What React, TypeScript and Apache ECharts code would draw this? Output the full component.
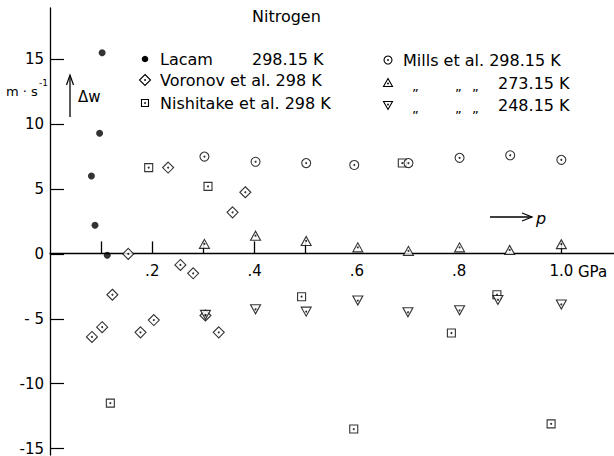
import React, { useEffect, useRef } from "react";
import * as echarts from "echarts";

// ---- data (pressure in GPa, Δw in m·s⁻¹) ----
const lacamP = [0.081, 0.088, 0.097, 0.102, 0.112];
const lacamW = [6.0, 2.2, 9.3, 15.5, -0.1];

const voronovP = [0.082, 0.102, 0.122, 0.153, 0.177, 0.203, 0.231, 0.255, 0.28, 0.304, 0.33, 0.357, 0.382];
const voronovW = [-6.4, -5.65, -3.15, 0.0, -6.05, -5.1, 6.65, -0.85, -1.5, -4.75, -6.05, 3.2, 4.75];

const nishitakeP = [0.118, 0.193, 0.309, 0.492, 0.594, 0.689, 0.785, 0.874, 0.98];
const nishitakeW = [-11.5, 6.65, 5.2, -3.3, -13.5, 7.0, -6.1, -3.15, -13.1];

const mills298P = [0.302, 0.402, 0.501, 0.595, 0.701, 0.801, 0.9, 1.0];
const mills298W = [7.5, 7.1, 7.0, 6.85, 7.0, 7.4, 7.6, 7.25];

const mills273P = [0.302, 0.402, 0.501, 0.602, 0.701, 0.801, 0.899, 1.0];
const mills273W = [0.77, 1.4, 1.0, 0.5, 0.23, 0.5, 0.3, 0.75];

const mills248P = [0.304, 0.402, 0.501, 0.602, 0.7, 0.801, 0.876, 1.0];
const mills248W = [-4.7, -4.27, -4.45, -3.6, -4.5, -4.35, -3.55, -3.9];

const xTickValues = [0.1, 0.2, 0.3, 0.4, 0.5, 1.0];
const xLabelValues = [0.2, 0.4, 0.6, 0.8, 1.0];
const xLabelTexts = [".2", ".4", ".6", ".8", "1.0"];
const yTickValues = [15, 10, 5, 0, -5, -10, -15];
const yLabelTexts = ["15", "10", "5", "0", "- 5", "-10", "-15"];

const Y_MIN = -15.5;
const Y_MAX = 18.95;
const FONT = "DejaVu Sans";
const zip = (a: number[], b: number[]) => a.map((v, i) => [v, b[i]]);

export default function App() {
  const ref = useRef<HTMLDivElement>(null);
  useEffect(() => {
    if (!ref.current) return;
    const chart = echarts.init(ref.current, null, { renderer: "svg" });

    const gridTop = 8;
    const gridBottom = 0;
    const gridH = 456 - gridTop - gridBottom;
    // distance from the grid's bottom edge up to the value 0
    const zeroOffset = (gridH * (0 - Y_MIN)) / (Y_MAX - Y_MIN);

    const hollow = { color: "#fff", borderColor: "#000", borderWidth: 1.1 };
    const txt = (x: number, y: number, text: string, size = 16, extra: any = {}) => ({
      type: "text",
      x,
      y,
      silent: true,
      style: { text, fontSize: size, fontFamily: FONT, fill: "#000", align: "left", verticalAlign: "middle", ...extra },
    });
    const strokeStyle = { stroke: "#000", lineWidth: 1.1, fill: "none" };
    const dot = (cx: number, cy: number) => ({ type: "circle", shape: { cx, cy, r: 0.9 }, style: { fill: "#000" } });

    const allHollowCentres = [
      ...zip(voronovP, voronovW),
      ...zip(nishitakeP, nishitakeW),
      ...zip(mills298P, mills298W),
      ...zip(mills273P, mills273W),
      ...zip(mills248P, mills248W),
    ];

    chart.setOption({
      animation: false,
      backgroundColor: "#fff",
      grid: { left: 50, right: 0, top: gridTop, bottom: gridBottom },
      xAxis: {
        type: "value",
        position: "bottom",
        offset: -zeroOffset,
        min: 0,
        max: 1.103,
        axisLine: { show: true, onZero: false, lineStyle: { color: "#000", width: 1.3 } },
        axisTick: { show: true, inside: true, length: 12, customValues: xTickValues, lineStyle: { color: "#000", width: 1.3 } },
        axisLabel: {
          show: true,
          margin: 10,
          customValues: xLabelValues,
          fontSize: 15,
          fontFamily: FONT,
          color: "#000",
          formatter: (v: number) => {
            const i = xLabelValues.findIndex((x) => Math.abs(x - v) < 1e-6);
            return i >= 0 ? xLabelTexts[i] : "";
          },
        },
        splitLine: { show: false },
      },
      yAxis: {
        type: "value",
        min: Y_MIN,
        max: Y_MAX,
        axisLine: { show: true, onZero: false, lineStyle: { color: "#000", width: 1.3 } },
        axisTick: { show: true, inside: true, length: 14, customValues: yTickValues, lineStyle: { color: "#000", width: 1.2 } },
        axisLabel: {
          show: true,
          margin: 6,
          customValues: yTickValues,
          fontSize: 15,
          fontFamily: FONT,
          color: "#000",
          formatter: (v: number) => {
            const i = yTickValues.findIndex((x) => Math.abs(x - v) < 1e-6);
            return i >= 0 ? yLabelTexts[i] : "";
          },
        },
        splitLine: { show: false },
      },
      series: [
        { name: "Lacam", type: "scatter", symbol: "circle", symbolSize: 7, itemStyle: { color: "#000" }, data: zip(lacamP, lacamW) },
        { name: "Voronov et al.", type: "scatter", symbol: "path://M0,-1L1,0L0,1L-1,0Z", symbolSize: 11, itemStyle: hollow, data: zip(voronovP, voronovW) },
        { name: "Nishitake et al.", type: "scatter", symbol: "rect", symbolSize: 8, itemStyle: hollow, data: zip(nishitakeP, nishitakeW) },
        { name: "Mills 298.15 K", type: "scatter", symbol: "circle", symbolSize: 9, itemStyle: hollow, data: zip(mills298P, mills298W) },
        { name: "Mills 273.15 K", type: "scatter", symbol: "triangle", symbolSize: [10, 9], itemStyle: hollow, data: zip(mills273P, mills273W) },
        { name: "Mills 248.15 K", type: "scatter", symbol: "triangle", symbolRotate: 180, symbolSize: [10, 9], itemStyle: hollow, data: zip(mills248P, mills248W) },
        { name: "centres", type: "scatter", symbol: "circle", symbolSize: 2, silent: true, z: 5, itemStyle: { color: "#000" }, data: allHollowCentres },
      ],
      graphic: [
        txt(252, 16, "Nitrogen", 16),
        // left legend
        { type: "circle", shape: { cx: 145, cy: 59, r: 3.3 }, style: { fill: "#000" } },
        txt(160, 59, "Lacam"),
        txt(252, 59, "298.15 K"),
        { type: "polygon", shape: { points: [[145, 74.5], [150.5, 80], [145, 85.5], [139.5, 80]] }, style: strokeStyle },
        dot(145, 80),
        txt(160, 80, "Voronov et al. 298 K"),
        { type: "rect", shape: { x: 141.5, y: 99.5, width: 7, height: 7 }, style: strokeStyle },
        dot(145, 103),
        txt(160, 103, "Nishitake et al. 298 K"),
        // right legend
        { type: "circle", shape: { cx: 388, cy: 60, r: 4 }, style: strokeStyle },
        dot(388, 60),
        txt(403, 60, "Mills et al. 298.15 K"),
        { type: "polygon", shape: { points: [[388, 78.5], [392.5, 86.5], [383.5, 86.5]] }, style: strokeStyle },
        dot(388, 83.5),
        txt(412, 86, "„", 13),
        txt(455, 86, "„", 13),
        txt(472, 86, "„", 13),
        txt(498, 83, "273.15 K"),
        { type: "polygon", shape: { points: [[383.5, 101.5], [392.5, 101.5], [388, 109.5]] }, style: strokeStyle },
        dot(388, 104.5),
        txt(412, 108, "„", 13),
        txt(455, 108, "„", 13),
        txt(472, 108, "„", 13),
        txt(498, 105, "248.15 K"),
        // unit and Δw arrow
        txt(6, 91, "m · s", 13),
        txt(39, 83, "-1", 9),
        { type: "line", shape: { x1: 70, y1: 117, x2: 70, y2: 76 }, style: { stroke: "#000", lineWidth: 1.3 } },
        { type: "polyline", shape: { points: [[66.5, 85], [70, 75], [73.5, 85]] }, style: { stroke: "#000", lineWidth: 1.2, fill: "none" } },
        txt(78, 97, "Δw", 15),
        // p arrow
        { type: "line", shape: { x1: 490, y1: 217, x2: 532, y2: 217 }, style: { stroke: "#000", lineWidth: 1.3 } },
        { type: "polyline", shape: { points: [[522, 213], [532, 217], [522, 221]] }, style: { stroke: "#000", lineWidth: 1.2, fill: "none" } },
        txt(536, 218, "p", 16, { fontStyle: "italic" }),
        // unit on x axis
        txt(578, 272, "GPa", 15),
      ],
    });
    return () => chart.dispose();
  }, []);
  return <div ref={ref} style={{ position: "absolute", left: 0, top: 0, width: 614, height: 456 }} />;
}
